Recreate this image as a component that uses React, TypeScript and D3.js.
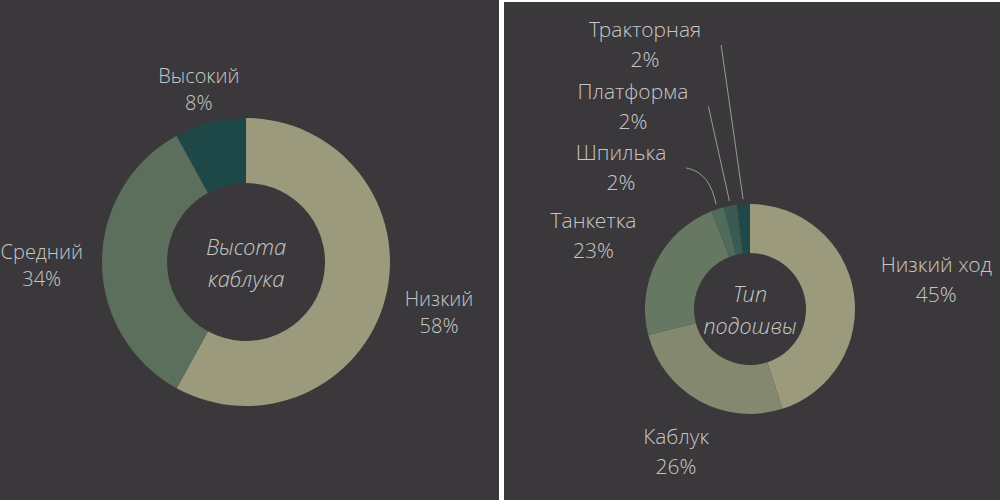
import React, { useEffect, useRef } from 'react';
import * as d3 from 'd3';

// Высота каблука
const heelLabels = ['Низкий', 'Средний', 'Высокий'];
const heelValues = [58, 34, 8];
const heelColors = ['#9c9a7d', '#5b6f5c', '#1e4748'];

// Тип подошвы
const soleLabels = ['Низкий ход', 'Каблук', 'Танкетка', 'Шпилька', 'Платформа', 'Тракторная'];
const soleValues = [45, 26, 23, 2, 2, 2];
const soleColors = ['#9c9a7d', '#83886f', '#677862', '#4f6b5b', '#3a5a52', '#1f4849'];

const BG = '#3b383b';
const TEXT = '#c6c6c6';
const FONT = '"Open Sans Light", "Open Sans", "Noto Sans", sans-serif';

interface DonutOpts {
  cx: number;
  cy: number;
  r: number;
  ir: number;
  labels: string[];
  values: number[];
  colors: string[];
  title: string[];
  fontSize: number;
  lineH: number;
  labelGap: number;
  nudge: [number, number][];
}

function drawDonut(svg: d3.Selection<SVGSVGElement, unknown, null, undefined>, o: DonutOpts) {
  const data = o.labels.map((label, i) => ({ label, value: o.values[i], color: o.colors[i] }));
  const pie = d3.pie<any>().sort(null).value(d => d.value);
  const arcs = pie(data);
  const arc = d3.arc<any>().innerRadius(o.ir).outerRadius(o.r);

  const g = svg.append('g').attr('transform', `translate(${o.cx},${o.cy})`);

  g.selectAll('path.slice')
    .data(arcs)
    .enter()
    .append('path')
    .attr('class', 'slice')
    .attr('d', arc)
    .attr('fill', d => d.data.color);

  // centre title
  const tt = g.append('text')
    .attr('text-anchor', 'middle')
    .attr('font-family', FONT)
    .attr('font-weight', 300)
    .attr('font-style', 'italic')
    .attr('font-size', 22)
    .attr('fill', TEXT);
  o.title.forEach((t, i) => {
    tt.append('tspan').attr('x', 0).attr('y', -7 + i * 32).text(t);
  });

  const capH = o.fontSize * 0.72;
  let smallIdx = 0;
  const smallCount = arcs.filter(a => a.data.value < 5).length;

  arcs.forEach((a, i) => {
    const mid = (a.startAngle + a.endAngle) / 2;
    const s = Math.sin(mid);
    const c = -Math.cos(mid);
    const label = g.append('text')
      .attr('text-anchor', 'middle')
      .attr('font-family', FONT)
      .attr('font-weight', 300)
      .attr('font-size', o.fontSize)
      .attr('fill', TEXT);
    const l1 = label.append('tspan').attr('x', 0).text(a.data.label);
    const l2 = label.append('tspan').attr('x', 0).text(`${a.data.value}%`);
    const w = Math.max((l1.node() as any).getComputedTextLength(), (l2.node() as any).getComputedTextLength());
    const h = o.lineH * 2;

    let x: number;
    let yc: number;
    if (a.data.value >= 5) {
      const R = o.r + o.labelGap;
      x = s * R + s * w / 2 + o.nudge[i][0];
      yc = c * R + c * h / 2 + o.nudge[i][1];
      const b1 = yc - o.lineH / 2 + capH / 2;
      l1.attr('y', b1);
      l2.attr('y', b1 + o.lineH);
      label.attr('transform', `translate(${x},0)`);
    } else {
      // stacked labels above the chart with leader lines
      const k = smallCount - 1 - smallIdx;
      smallIdx++;
      x = -105 - 12 * k;
      const b1 = -o.r - 167 + k * 61.5;
      l1.attr('y', b1);
      l2.attr('y', b1 + o.lineH);
      label.attr('transform', `translate(${x},0)`);
      const start: [number, number] = [x + w / 2 + 20, b1 + 8];
      const end: [number, number] = [Math.sin(mid) * (o.r + 5), -Math.cos(mid) * (o.r + 5)];
      const dx = end[0] - start[0];
      const dy = end[1] - start[1];
      const path = d3.path();
      path.moveTo(start[0], start[1]);
      if (dx / dy > 0.5) {
        path.quadraticCurveTo(start[0] + dx * 0.8, start[1] + dy * 0.12, end[0], end[1]);
      } else {
        path.lineTo(end[0], end[1]);
      }
      g.append('path')
        .attr('d', path.toString())
        .attr('fill', 'none')
        .attr('stroke', '#9a9a9a')
        .attr('stroke-width', 1);
    }
  });
}

export default function App() {
  const svgRef = useRef<SVGSVGElement>(null);

  useEffect(() => {
    if (!svgRef.current) return;
    const svg = d3.select(svgRef.current);
    svg.selectAll('*').remove();

    svg.append('rect').attr('x', 0).attr('y', 0).attr('width', 1000).attr('height', 500).attr('fill', '#ffffff');
    svg.append('rect').attr('x', 0).attr('y', 0).attr('width', 499).attr('height', 500).attr('fill', BG);
    svg.append('rect').attr('x', 504).attr('y', 2).attr('width', 496).attr('height', 498).attr('fill', BG);

    drawDonut(svg, {
      cx: 246, cy: 262, r: 144, ir: 79,
      labels: heelLabels, values: heelValues, colors: heelColors,
      title: ['Высота', 'каблука'],
      fontSize: 20, lineH: 27, labelGap: 21,
      nudge: [[0, 3], [2, 3], [4, 13]],
    });

    drawDonut(svg, {
      cx: 750, cy: 309, r: 105, ir: 56,
      labels: soleLabels, values: soleValues, colors: soleColors,
      title: ['Тип', 'подошвы'],
      fontSize: 21, lineH: 30, labelGap: 30,
      nudge: [[-2, -4], [7, -2], [2, 1], [0, 0], [0, 0], [0, 0]],
    });
  }, []);

  return (
    <svg
      ref={svgRef}
      width={1000}
      height={500}
      style={{ position: 'absolute', left: 0, top: 0, display: 'block' }}
    />
  );
}
